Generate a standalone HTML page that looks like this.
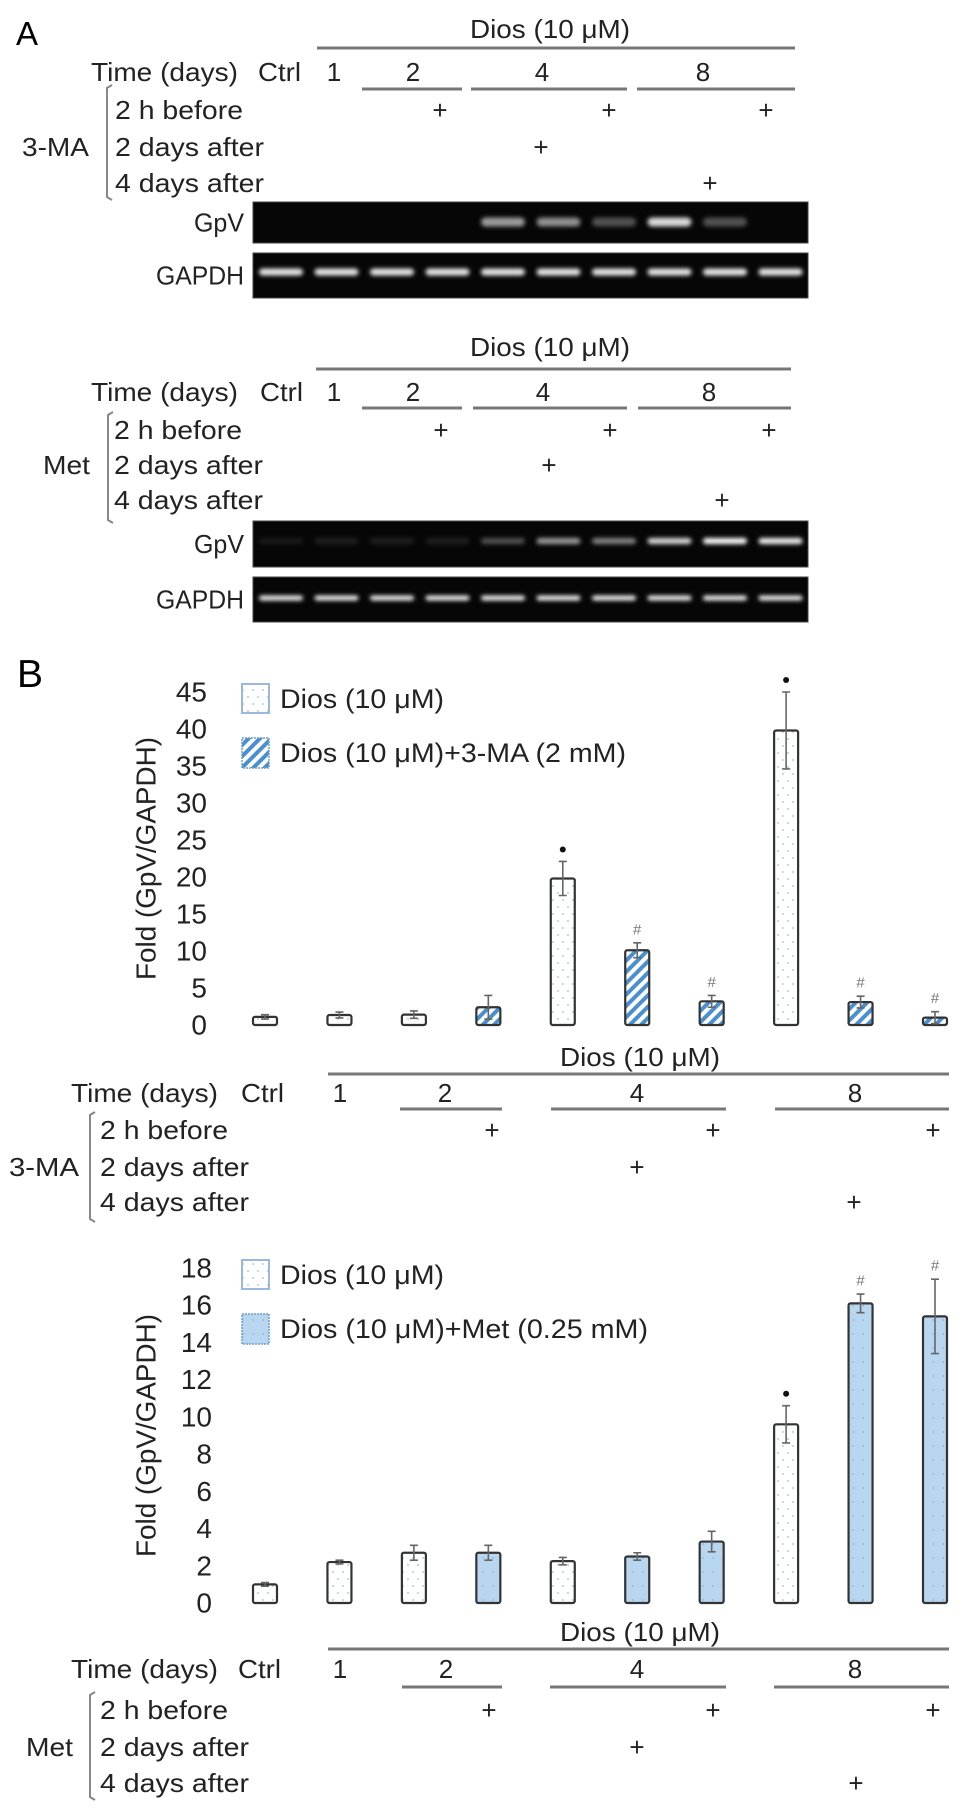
<!DOCTYPE html>
<html><head><meta charset="utf-8"><style>
html,body{margin:0;padding:0;background:#fff;}
svg{display:block;font-family:"Liberation Sans",Arial,sans-serif;}
</style></head><body>
<svg id="fig" width="969" height="1815" viewBox="0 0 969 1815" xmlns="http://www.w3.org/2000/svg">
<defs>
<pattern id="dots" width="10" height="14" patternUnits="userSpaceOnUse"><rect width="10" height="14" fill="#fff"/><circle cx="3" cy="4" r="1" fill="#b5cbe0"/><circle cx="8" cy="11" r="1" fill="#b5cbe0"/></pattern>
<pattern id="hatch" width="8" height="8" patternUnits="userSpaceOnUse" patternTransform="rotate(45)"><rect width="8" height="8" fill="#fff"/><rect width="4" height="8" fill="#4a90d0"/></pattern>
<pattern id="blue" width="10" height="14" patternUnits="userSpaceOnUse"><rect width="10" height="14" fill="#b9d6f0"/><circle cx="3" cy="4" r="0.9" fill="#8fb5da"/></pattern>
<filter id="blur" x="-20%" y="-100%" width="140%" height="300%"><feGaussianBlur stdDeviation="2"/></filter>
</defs>
<text x="16" y="45" font-size="33">A</text>
<text x="17" y="687" font-size="39">B</text>
<g id="gels"></g>
<g id="annots"></g>
<g id="chart1"></g>
<g id="chart2"></g>
</svg>
<script>
const NS='http://www.w3.org/2000/svg';
function mk(tag,parent,attrs){const e=document.createElementNS(NS,tag);for(const k in attrs)e.setAttribute(k,attrs[k]);parent.appendChild(e);return e;}
function txt(parent,s,x,y,size,anchor,len,name){
  const t=mk('text',parent,{x:x,y:y,'font-size':size,'text-anchor':anchor||'start','dominant-baseline':'central',fill:'#222'});
  if(len){t.setAttribute('textLength',len);t.setAttribute('lengthAdjust','spacingAndGlyphs');}
  t.textContent=s;
  
  
  return t;
}
function ln(parent,x1,y1,x2,y2,name,w,c){
  const l=mk('line',parent,{x1:x1,y1:y1,x2:x2,y2:y2,stroke:c||'#777','stroke-width':w||3});
  
  
  return l;
}
// ---------- annotation blocks ----------
const annG=document.getElementById('annots');
function annot(b){
  const g=mk('g',annG,{});
  
  
  txt(g,'Dios (10 μM)',b.dx,b.dy,26,'middle',160,'dios-header');
  ln(g,b.lx[0],b.ly,b.lx[1],b.ly,'dios-bracket-line');
  txt(g,'Time (days)',b.tx,b.ty,26,'start',147,'time-days-label');
  txt(g,'Ctrl',b.cx,b.ty,26,'start',43,'ctrl-label');
  const nums=['1','2','4','8'];
  nums.forEach((n,i)=>txt(g,n,b.nx[i],b.ty,26,'middle',null,'day-'+n+'-label'));
  b.sub.forEach((s,i)=>ln(g,s[0],b.sy,s[1],b.sy,'day-group-line'));
  const rl=['2 h before','2 days after','4 days after'];
  const rw=[128,149,149];
  rl.forEach((r,i)=>txt(g,r,b.rx,b.ry[i],26,'start',rw[i],'row-'+r.replace(/ /g,'-')));
  b.plus.forEach((row,i)=>row.forEach(x=>txt(g,'+',x,b.ry[i],26,'middle',null,'plus-mark')));
  txt(g,b.grp,b.gx,b.ry[1],26,'start',b.gw,'treatment-group-label');
  const br=mk('path',g,{d:`M${b.bx+5},${b.by[0]} L${b.bx},${b.by[0]+3} L${b.bx},${b.by[1]-3} L${b.bx+5},${b.by[1]}`,fill:'none',stroke:'#888','stroke-width':2});
  
  
}
annot({name:'annot-a-3ma',dx:550,dy:29,lx:[317,795],ly:48,tx:91,ty:72,cx:258,nx:[334,413,542,703],sy:89,sub:[[362,462],[471,627],[637,795]],rx:115,ry:[110,147,183],plus:[[440,609,766],[541],[710]],grp:'3-MA',gx:22,gw:67,bx:107,by:[85,200]});
annot({name:'annot-a-met',dx:550,dy:347,lx:[316,791],ly:369,tx:91,ty:392,cx:260,nx:[334,413,543,709],sy:408,sub:[[362,462],[473,627],[638,791]],rx:114,ry:[430,465,500],plus:[[441,610,769],[549],[722]],grp:'Met',gx:43,gw:47,bx:108,by:[412,523]});
annot({name:'annot-b-3ma',dx:640,dy:1057,lx:[328,949],ly:1074,tx:71,ty:1093,cx:241,nx:[340,445,637,855],sy:1109,sub:[[400,502],[551,726],[775,949]],rx:100,ry:[1130,1167,1202],plus:[[492,713,933],[637],[854]],grp:'3-MA',gx:9,gw:70,bx:90,by:[1112,1222]});
annot({name:'annot-b-met',dx:640,dy:1632,lx:[328,949],ly:1649,tx:71,ty:1669,cx:238,nx:[340,446,637,855],sy:1687,sub:[[402,502],[550,726],[774,949]],rx:100,ry:[1710,1747,1783],plus:[[489,713,933],[637],[856]],grp:'Met',gx:26,gw:47,bx:90,by:[1692,1800]});

// ---------- gels ----------
const gelG=document.getElementById('gels');
const gpv1=[0,0,0,0,0.6,0.55,0.3,0.85,0.3,0];
const gpv2=[0.08,0.1,0.1,0.1,0.3,0.6,0.5,0.85,1.0,0.95];
function gel(y0,h,bands,label,bandY,name,thick){
  const r=mk('rect',gelG,{x:253,y:y0,width:555,height:h,fill:'#060606',stroke:'#444','stroke-width':1});
  
  
  txt(gelG,label,244,y0+h/2,26,'end',label==='GpV'?50:88,name+'-label');
  bands.forEach((v,i)=>{
    if(v<=0)return;
    const cx=281+i*55.5;
    const b=mk('rect',gelG,{x:cx-22,y:bandY-thick/2,width:44,height:thick,rx:thick/2,fill:'#fff','fill-opacity':v,filter:'url(#blur)'});
    
    
  });
}
gel(202,41,gpv1,'GpV',222,'gpv-gel-3ma',9);
gel(253,45,[0.9,0.9,0.9,0.9,0.9,0.9,0.9,0.9,0.9,0.9],'GAPDH',272,'gapdh-gel-3ma',7);
gel(521,46,gpv2,'GpV',541,'gpv-gel-met',6);
gel(577,45,[0.95,0.95,0.95,0.95,0.95,0.95,0.95,0.95,0.95,0.95],'GAPDH',598,'gapdh-gel-met',5);

// ---------- charts ----------
const categories=['Ctrl','1d','2d','2d+pre','4d','4d+2d','4d+pre','8d','8d+4d','8d+pre'];
const series1Values=[1.1,1.35,1.4,2.4,19.8,10.1,3.2,39.8,3.1,1.0];
const series1Errors=[0.3,0.4,0.5,1.6,2.3,1.0,0.8,5.2,0.8,0.8];
const series1Marks=['','','','','*','#','#','*','#','#'];
const series1Types=['d','d','d','t','d','t','t','d','t','t'];
const series1Ticks=[0,5,10,15,20,25,30,35,40,45];
const series2Values=[1.0,2.2,2.7,2.7,2.25,2.5,3.3,9.6,16.1,15.4];
const series2Errors=[0.1,0.1,0.4,0.4,0.2,0.2,0.55,1.0,0.5,2.0];
const series2Marks=['','','','','','','','*','#','#'];
const series2Types=['d','d','d','t','d','t','t','d','t','t'];
const series2Ticks=[0,2,4,6,8,10,12,14,16,18];

function xScale(i){return 265+i*(935-265)/(categories.length-1);}
function drawChart(gid,vals,errs,marks,types,ticks,y0,yTop,tickX,fillT,leg2,leg2w){
  const g=document.getElementById(gid);
  const maxT=ticks[ticks.length-1];
  const y=v=>y0-(v/maxT)*(y0-yTop);
  ticks.forEach(t=>txt(g,String(t),tickX,y(t),28,'end',null,'y-tick-label'));
  const tt=txt(g,'Fold (GpV/GAPDH)',0,0,28,'middle',243,'y-axis-title');
  tt.setAttribute('transform',`translate(146,${(y0+yTop)/2}) rotate(-90)`);
  // legend
  const l1=mk('rect',g,{x:242,y:yTop-8,width:27,height:29,fill:'url(#dots)',stroke:'#9bb8d8','stroke-width':2});
  
  
  txt(g,'Dios (10 μM)',280,yTop+7,27,'start',164,'legend-label-dios');
  const l2=mk('rect',g,{x:242,y:yTop+46,width:27,height:30,fill:fillT,stroke:'#6a9fd0','stroke-width':1.5,'stroke-dasharray':'2 1'});
  
  
  txt(g,leg2,280,yTop+61,27,'start',leg2w,'legend-label-combo');
  vals.forEach((v,i)=>{
    const cx=xScale(i),w=24;
    const b=mk('rect',g,{x:cx-w/2,y:y(v),width:w,height:y0-y(v),fill:types[i]==='d'?'url(#dots)':fillT,stroke:'#333','stroke-width':2.2,rx:2});
    
    
    const e=errs[i];
    const eg=mk('path',g,{d:`M${cx},${y(v-e)} L${cx},${y(v+e)} M${cx-4},${y(v+e)} L${cx+4},${y(v+e)} M${cx-4},${y(v-e)} L${cx+4},${y(v-e)}`,stroke:'#666','stroke-width':1.6,fill:'none'});
    
    
    if(marks[i]==='*'){
      const d=mk('circle',g,{cx:cx,cy:y(v+e)-12,r:3,fill:'#111'});
      
      
    }else if(marks[i]==='#'){
      txt(g,'#',cx,y(v+e)-13,15,'middle',null,'significance-hash').setAttribute('fill','#777');
    }
  });
}
drawChart('chart1',series1Values,series1Errors,series1Marks,series1Types,series1Ticks,1025,692,207,'url(#hatch)','Dios (10 μM)+3-MA (2 mM)',346);
drawChart('chart2',series2Values,series2Errors,series2Marks,series2Types,series2Ticks,1603,1268,212,'url(#blue)','Dios (10 μM)+Met (0.25 mM)',368);
</script>
</body></html>
